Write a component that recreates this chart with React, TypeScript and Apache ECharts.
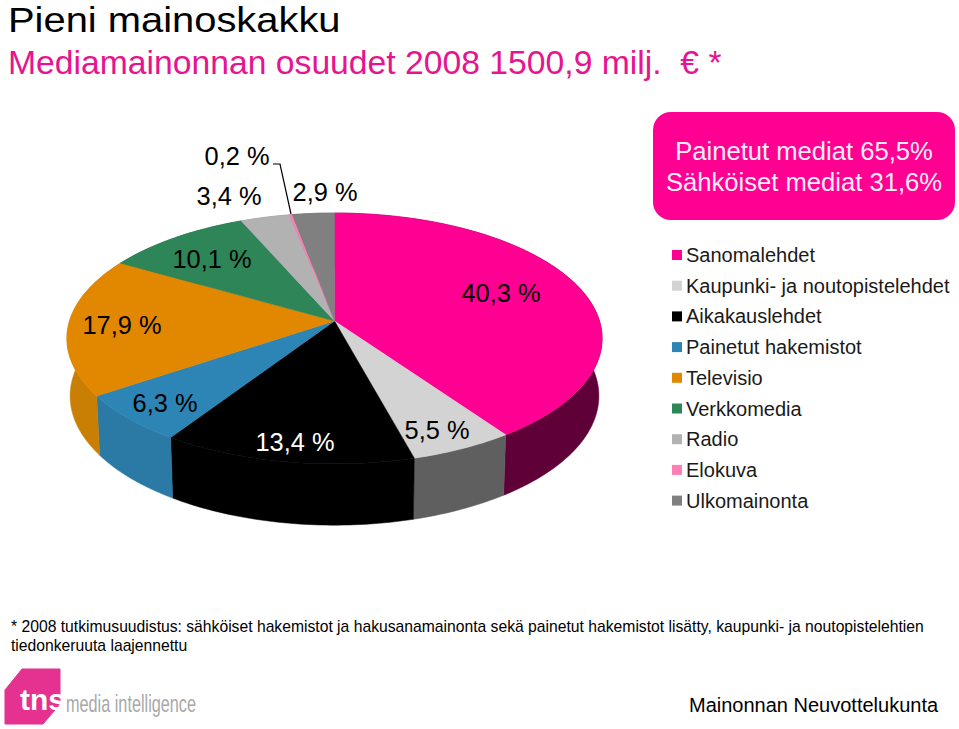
import React, { useEffect, useRef } from "react";
import * as echarts from "echarts";

const categories = ["Sanomalehdet", "Kaupunki- ja noutopistelehdet", "Aikakauslehdet", "Painetut hakemistot", "Televisio", "Verkkomedia", "Radio", "Elokuva", "Ulkomainonta"];
const shares = [40.3, 5.5, 13.4, 6.3, 17.9, 10.1, 3.4, 0.2, 2.9];
const topColors = ["#ff0093", "#d3d3d3", "#000000", "#2c85b5", "#e18700", "#2e8557", "#b2b2b2", "#ff7fb5", "#808080"];
const sideColors = ["#5f0038", "#5f5f5f", "#000000", "#2b7aa6", "#c97f04", "#236a45", "#8a8a8a", "#b05a80", "#606060"];
const titleText = "Pieni mainoskakku";
const subtitleText = "Mediamainonnan osuudet 2008 1500,9 milj.  € *";
const boxLines = ["Painetut mediat 65,5%", "Sähköiset mediat 31,6%"];
const footnoteLines = [
  "* 2008 tutkimusuudistus: sähköiset hakemistot ja hakusanamainonta sekä painetut hakemistot lisätty, kaupunki- ja noutopistelehtien",
  "tiedonkeruuta laajennettu",
];
const footerText = "Mainonnan Neuvottelukunta";

const APEX_X = 334.5, APEX_Y = 321, RX = 265, RY = 123, K = 0.139;
const total = shares.reduce((a, b) => a + b, 0);
const startOf = (i: number) => shares.slice(0, i).reduce((a, b) => a + b, 0) / total * Math.PI * 2;

function rim(angle: number): [number, number] {
  const u = Math.sin(angle), v = -Math.cos(angle);
  const s = 1 / (1 - K * v);
  return [APEX_X + RX * u * s, APEX_Y + RY * v * s];
}
function lower(p: [number, number]): [number, number] {
  return [APEX_X + (p[0] - APEX_X) * 0.988, APEX_Y + 57 + (p[1] - APEX_Y) * 1.03];
}
function arc(i: number): [number, number][] {
  const a0 = startOf(i), a1 = startOf(i + 1);
  const n = Math.max(3, Math.ceil((a1 - a0) / 0.02));
  const out: [number, number][] = [];
  for (let k = 0; k <= n; k++) out.push(rim(a0 + (a1 - a0) * k / n));
  return out;
}

const pctLabel = (i: number) => shares[i].toFixed(1).replace(".", ",") + " %";

const label = (i: number, x: number, y: number, fill = "#000") => ({
  type: "text", x, y, z: 10,
  style: { text: pctLabel(i), fill, font: "25.4px 'Liberation Sans'", textAlign: "center", textVerticalAlign: "middle" },
});

export default function App() {
  const ref = useRef<HTMLDivElement>(null);
  useEffect(() => {
    const chart = echarts.init(ref.current!, null, { renderer: "svg" });
    const wallSeries = {
      type: "custom", name: "sivut", coordinateSystem: "none", z: 1, silent: true,
      data: shares.map((_, i) => i),
      renderItem: (p: any) => {
        const i = p.dataIndex;
        const up = arc(i);
        const pts = [...up, ...up.slice().reverse().map(lower)];
        return { type: "polygon", shape: { points: pts }, style: { fill: sideColors[i], stroke: sideColors[i], lineWidth: 0.5 } };
      },
    };
    const topSeries = categories.map((name, i) => ({
      type: "custom", name, coordinateSystem: "none", z: 2, silent: true,
      itemStyle: { color: topColors[i] },
      data: [shares[i]],
      renderItem: () => ({
        type: "polygon",
        shape: { points: [[APEX_X, APEX_Y], ...arc(i)] },
        style: { fill: topColors[i], stroke: topColors[i], lineWidth: 0.5 },
      }),
    }));
    chart.setOption({
      animation: false,
      legend: {
        data: categories, orient: "vertical", left: 672, top: 244, padding: 0, itemWidth: 10, itemHeight: 10, itemGap: 8.7,
        icon: "rect", selectedMode: false, itemStyle: { borderWidth: 0 },
        textStyle: { color: "#1a1a1a", fontFamily: "Liberation Sans", fontSize: 20, lineHeight: 22, padding: [0, 0, 0, -1] },
      },
      graphic: [
        { type: "text", x: 8, y: 20, scaleX: 1.14, style: { text: titleText, fill: "#000", font: "35px 'Liberation Sans'", textVerticalAlign: "middle" } },
        { type: "text", x: 8, y: 62, style: { text: subtitleText, fill: "#e6148e", font: "33.7px 'Liberation Sans'", textVerticalAlign: "middle" } },
        { type: "rect", shape: { x: 653, y: 112, width: 302, height: 108, r: 18 }, style: { fill: "#ff0093" } },
        ...boxLines.map((t, i) => ({
          type: "text", x: 804, y: 151 + i * 31,
          style: { text: t, fill: "#ffeef8", font: "25.6px 'Liberation Sans'", textAlign: "center", textVerticalAlign: "middle" },
        })),
        { type: "polyline", shape: { points: [[273, 164], [280, 164], [291, 214]] }, style: { stroke: "#000", lineWidth: 1.2, fill: "none" } },
        label(7, 237, 156), label(6, 229, 196), label(8, 325, 192), label(5, 212, 259),
        label(0, 501, 293), label(4, 122, 325), label(3, 165, 403), label(2, 295, 442, "#fff"), label(1, 437, 430),
        ...footnoteLines.map((t, i) => ({
          type: "text", x: 11, y: 626 + i * 19,
          style: { text: t, fill: "#000", font: "15.7px 'Liberation Sans'", textVerticalAlign: "middle" },
        })),
        { type: "polygon", shape: { points: [[5, 690], [22, 669], [60, 669], [60, 704], [43, 724], [5, 724]] }, style: { fill: "#e5318f", stroke: "#e5318f", lineWidth: 1, lineJoin: "round" } },
        { type: "text", x: 20, y: 699, style: { text: "tns", fill: "#fff", font: "bold 30px 'Liberation Sans'", textVerticalAlign: "middle" } },
        { type: "rect", shape: { x: 61, y: 680, width: 5, height: 30 }, style: { fill: "#fff" } },
        { type: "text", x: 66, y: 703, scaleX: 0.677, style: { text: "media intelligence", fill: "#a8a8a8", font: "24px 'Liberation Sans'", textVerticalAlign: "middle" } },
        { type: "text", x: 689, y: 705, style: { text: footerText, fill: "#000", font: "20px 'Liberation Sans'", textVerticalAlign: "middle" } },
      ],
      series: [wallSeries, ...topSeries],
    });
    return () => chart.dispose();
  }, []);
  return <div ref={ref} style={{ position: "absolute", left: 0, top: 0, width: 959, height: 729, background: "#fff" }} />;
}
